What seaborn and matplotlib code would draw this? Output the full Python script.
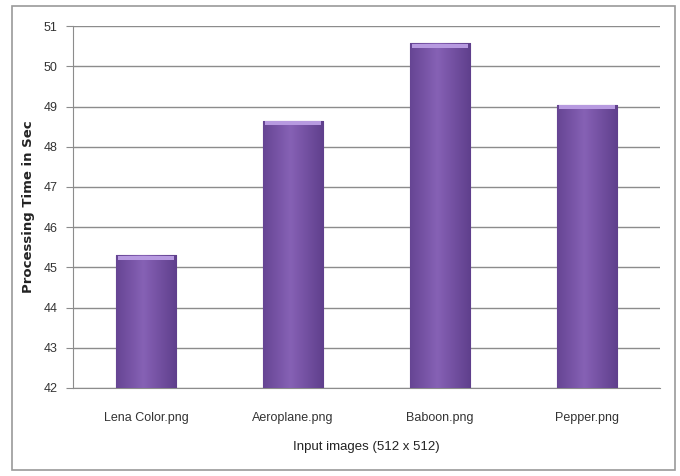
import numpy as np
import pandas as pd
import matplotlib
matplotlib.use('Agg')
import matplotlib.pyplot as plt
import seaborn as sns
from matplotlib.patches import Rectangle

# values
images = ['Lena Color.png', 'Aeroplane.png', 'Baboon.png', 'Pepper.png']
proc_time = [45.3, 48.65, 50.57, 49.05]
y_ticks = [42, 43, 44, 45, 46, 47, 48, 49, 50, 51]

df = pd.DataFrame({'image': images, 'time': proc_time})

sns.set_style('white')
plt.rcParams['font.family'] = ['Liberation Sans', 'DejaVu Sans']

fig = plt.figure(figsize=(6.8, 4.76), dpi=100)
ax = fig.add_axes([0.107, 0.185, 0.864, 0.76])

sns.barplot(data=df, x='image', y='time', color='#7b58a8', width=0.41,
            edgecolor='#5e3f8a', linewidth=0.8, ax=ax, zorder=3)

# gradient shading on the bars
grad = np.linspace(0, 1, 256).reshape(1, -1)
grad = np.abs(grad - 0.45)
cmap = matplotlib.colors.LinearSegmentedColormap.from_list('p', ['#8661b5', '#5f3f8c'])
for bar in ax.patches:
    x0 = bar.get_x()
    w, h = bar.get_width(), bar.get_height()
    im = ax.imshow(grad, extent=[x0, x0 + w, 42, h], aspect='auto',
                   cmap=cmap, zorder=3.5)
    im.set_clip_path(bar)
    # light cap on the top
    ax.add_patch(Rectangle((x0 + w * 0.04, h - 0.12), w * 0.92, 0.1,
                           color='#b79ae0', zorder=4, lw=0))

ax.set_xlim(-0.5, 3.5)
ax.set_ylim(42, 51)
ax.set_yticks(y_ticks)
ax.yaxis.grid(True, color='#8c8c8c', linewidth=1.0, zorder=0)
ax.set_axisbelow(True)

for s in ['top', 'right']:
    ax.spines[s].set_visible(False)
ax.spines['left'].set_color('#8c8c8c')
ax.spines['bottom'].set_color('#8c8c8c')
ax.tick_params(axis='y', left=True, length=5, color='#8c8c8c', labelsize=9,
               labelcolor='#333333', pad=6)
ax.tick_params(axis='x', bottom=False, labelsize=9, labelcolor='#333333', pad=14)

ax.set_xlabel('Input images (512 x 512)', fontsize=9.5, labelpad=12, color='#222222')
ax.set_ylabel('Processing Time in Sec', fontsize=9.5, fontweight='bold',
              family='DejaVu Sans', labelpad=6, color='#222222')

# outer chart border
fig.patches.append(Rectangle((12 / 680, 6 / 476), 663 / 680, 464 / 476,
                             transform=fig.transFigure, fill=False,
                             edgecolor='#9a9a9a', linewidth=1.2))

fig.savefig('out.png', dpi=100)
